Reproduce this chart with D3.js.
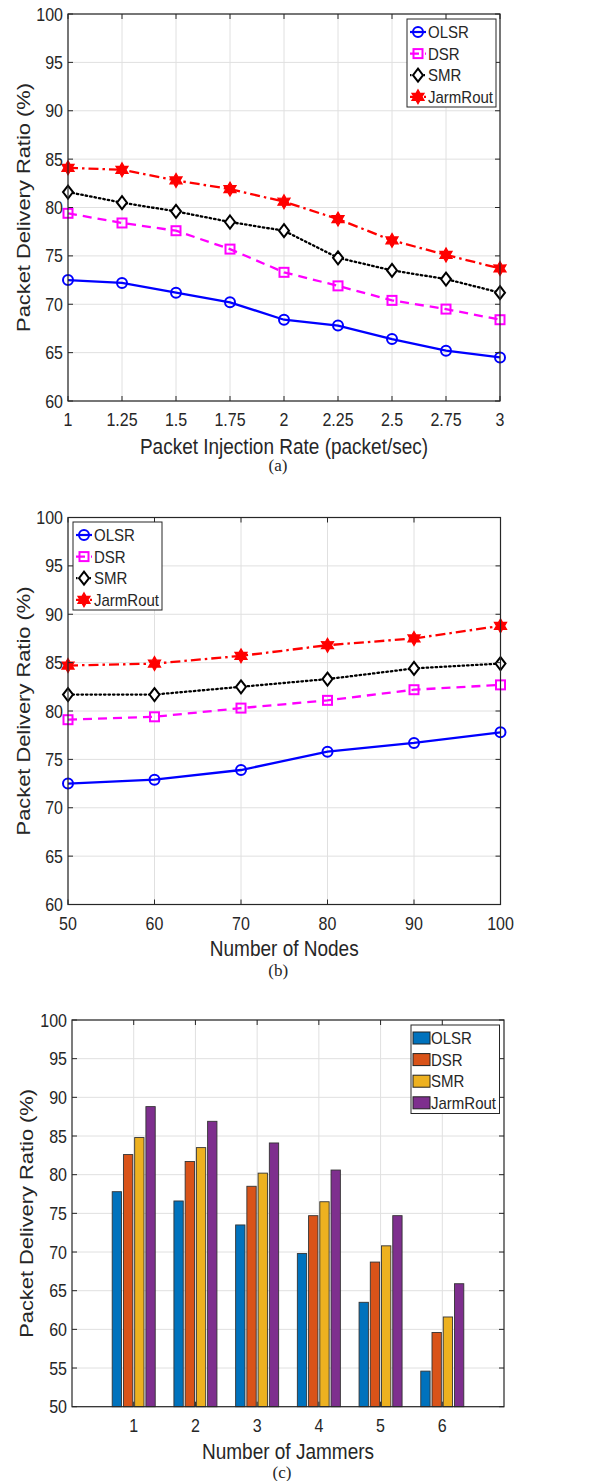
<!DOCTYPE html>
<html>
<head>
<meta charset="utf-8">
<script src="https://cdn.jsdelivr.net/npm/d3@7"></script>
<style>
  body { margin: 0; background: #fff; }
  svg text { font-family: "Liberation Sans", Arial, sans-serif; fill: #262626; }
  .cap { font-family: "Liberation Serif", "Times New Roman", serif; }
</style>
</head>
<body>
<svg id="fig" width="593" height="1481"></svg>
<script>
// ---- DATA ----
const protocols = ["OLSR", "DSR", "SMR", "JarmRout"];

// (a) vs packet injection rate
const injectionRates = [1, 1.25, 1.5, 1.75, 2, 2.25, 2.5, 2.75, 3];
const injectionTickLabels = ["1", "1.25", "1.5", "1.75", "2", "2.25", "2.5", "2.75", "3"];
const olsrByRate = [72.5, 72.2, 71.2, 70.2, 68.4, 67.8, 66.4, 65.2, 64.5];
const dsrByRate = [79.4, 78.4, 77.6, 75.7, 73.3, 71.9, 70.4, 69.5, 68.4];
const smrByRate = [81.6, 80.5, 79.6, 78.5, 77.6, 74.8, 73.5, 72.6, 71.2];
const jarmByRate = [84.1, 83.9, 82.8, 81.9, 80.6, 78.8, 76.6, 75.1, 73.7];

// (b) vs number of nodes
const nodeCounts = [50, 60, 70, 80, 90, 100];
const olsrByNodes = [72.5, 72.9, 73.9, 75.8, 76.7, 77.8];
const dsrByNodes = [79.1, 79.4, 80.3, 81.1, 82.2, 82.7];
const smrByNodes = [81.7, 81.7, 82.5, 83.3, 84.4, 84.9];
const jarmByNodes = [84.7, 84.9, 85.7, 86.8, 87.5, 88.8];

// (c) vs number of jammers
const jammerCounts = [1, 2, 3, 4, 5, 6];
const olsrByJammers = [77.8, 76.6, 73.5, 69.8, 63.5, 54.6];
const dsrByJammers = [82.6, 81.7, 78.5, 74.7, 68.7, 59.6];
const smrByJammers = [84.8, 83.5, 80.2, 76.5, 70.8, 61.6];
const jarmByJammers = [88.8, 86.9, 84.1, 80.6, 74.7, 65.9];

const pdrTicksLine = [60, 65, 70, 75, 80, 85, 90, 95, 100];
const pdrTicksBar = [50, 55, 60, 65, 70, 75, 80, 85, 90, 95, 100];

// ---- STYLES ----
const lineStyles = {
  OLSR:     { color: "#0000ff", dash: null,         marker: "circle" },
  DSR:      { color: "#ff00ff", dash: "9,6",        marker: "square" },
  SMR:      { color: "#000000", dash: "1.5,3",      marker: "diamond" },
  JarmRout: { color: "#ff0000", dash: "10,4,2.5,4", marker: "star" }
};
const barColors = ["#0072BD", "#D95319", "#EDB120", "#7E2F8E"];

const svg = d3.select("#fig");
const gridColor = "#e0e0e0";
const axisColor = "#262626";
const stretch = 1.13; // text in the figure is a bit taller than wide

// horizontal text, slightly stretched vertically
function addText(g, x, y, str, size, anchor) {
  return g.append("text")
    .attr("transform", `translate(${x},${y}) scale(1,${stretch})`)
    .attr("text-anchor", anchor || "start")
    .attr("font-size", size)
    .text(str);
}

function drawMarker(g, type, x, y, color) {
  if (type === "circle") {
    g.append("circle").attr("cx", x).attr("cy", y).attr("r", 5)
      .attr("fill", "none").attr("stroke", color).attr("stroke-width", 2);
  } else if (type === "square") {
    g.append("rect").attr("x", x - 4.5).attr("y", y - 4.5).attr("width", 9).attr("height", 9)
      .attr("fill", "none").attr("stroke", color).attr("stroke-width", 2);
  } else if (type === "diamond") {
    g.append("path").attr("d", `M${x},${y - 6.5}L${x + 5},${y}L${x},${y + 6.5}L${x - 5},${y}Z`)
      .attr("fill", "#fff").attr("stroke", color).attr("stroke-width", 2);
  } else {
    const pts = [];
    for (let i = 0; i < 12; i++) {
      const a = -Math.PI / 2 + i * Math.PI / 6;
      const r = i % 2 === 0 ? 7 : 4;
      pts.push([x + r * Math.cos(a), y + r * Math.sin(a)]);
    }
    g.append("path").attr("d", d3.line()(pts) + "Z")
      .attr("fill", color).attr("stroke", color).attr("stroke-width", 1.2);
  }
}

// grid lines behind the data
function drawFrame(g, x, y, xTicks, yTicks, left, right, top, bottom) {
  g.selectAll("line.vg").data(xTicks).join("line").attr("class", "vg")
    .attr("x1", d => x(d)).attr("x2", d => x(d)).attr("y1", top).attr("y2", bottom)
    .attr("stroke", gridColor).attr("stroke-width", 1);
  g.selectAll("line.hg").data(yTicks).join("line").attr("class", "hg")
    .attr("y1", d => y(d)).attr("y2", d => y(d)).attr("x1", left).attr("x2", right)
    .attr("stroke", gridColor).attr("stroke-width", 1);
}

// box with inward ticks on all four sides
function drawBox(g, x, y, xTicks, yTicks, left, right, top, bottom) {
  const tl = 5;
  g.selectAll("line.xt").data(xTicks).join("line").attr("class", "xt")
    .attr("x1", d => x(d)).attr("x2", d => x(d)).attr("y1", bottom).attr("y2", bottom - tl)
    .attr("stroke", axisColor);
  g.selectAll("line.xt2").data(xTicks).join("line").attr("class", "xt2")
    .attr("x1", d => x(d)).attr("x2", d => x(d)).attr("y1", top).attr("y2", top + tl)
    .attr("stroke", axisColor);
  g.selectAll("line.yt").data(yTicks).join("line").attr("class", "yt")
    .attr("y1", d => y(d)).attr("y2", d => y(d)).attr("x1", left).attr("x2", left + tl)
    .attr("stroke", axisColor);
  g.selectAll("line.yt2").data(yTicks).join("line").attr("class", "yt2")
    .attr("y1", d => y(d)).attr("y2", d => y(d)).attr("x1", right).attr("x2", right - tl)
    .attr("stroke", axisColor);
  g.append("rect").attr("x", left).attr("y", top).attr("width", right - left).attr("height", bottom - top)
    .attr("fill", "none").attr("stroke", axisColor).attr("stroke-width", 1.2);
}

function drawLabels(g, x, y, xTicks, xLabels, yTicks, cfg) {
  xTicks.forEach((d, i) => addText(g, x(d), cfg.bottom + 25, xLabels[i], 16, "middle"));
  yTicks.forEach(d => addText(g, cfg.left - 5, y(d) + 6.5, d, 16, "end"));
  addText(g, (cfg.left + cfg.right) / 2, cfg.xLabelY, cfg.xTitle, 19, "middle");
  g.append("text")
    .attr("transform", `translate(${cfg.yLabelX},${(cfg.top + cfg.bottom) / 2}) rotate(-90) scale(1.15,1)`)
    .attr("text-anchor", "middle").attr("font-size", 19).text("Packet Delivery Ratio (%)");
  g.append("text").attr("class", "cap").attr("x", (cfg.left + cfg.right) / 2 - 6).attr("y", cfg.capY)
    .attr("text-anchor", "middle").attr("font-size", 17).text(cfg.caption);
}

function linePanel(cfg) {
  const g = svg.append("g");
  const x = d3.scaleLinear().domain(d3.extent(cfg.xs)).range([cfg.left, cfg.right]);
  const y = d3.scaleLinear().domain([60, 100]).range([cfg.bottom, cfg.top]);
  drawFrame(g, x, y, cfg.xs, pdrTicksLine, cfg.left, cfg.right, cfg.top, cfg.bottom);

  cfg.series.forEach((vals, k) => {
    const st = lineStyles[protocols[k]];
    const pts = cfg.xs.map((d, i) => [x(d), y(vals[i])]);
    g.append("path").attr("d", d3.line()(pts)).attr("fill", "none")
      .attr("stroke", st.color).attr("stroke-width", 2.3)
      .attr("stroke-dasharray", st.dash)
      .attr("stroke-linecap", st.marker === "diamond" ? "round" : "butt");
    pts.forEach(p => drawMarker(g, st.marker, p[0], p[1], st.color));
  });

  drawBox(g, x, y, cfg.xs, pdrTicksLine, cfg.left, cfg.right, cfg.top, cfg.bottom);
  drawLabels(g, x, y, cfg.xs, cfg.xLabels, pdrTicksLine, cfg);

  // legend
  const lg = g.append("g");
  lg.append("rect").attr("x", cfg.lx).attr("y", cfg.ly).attr("width", 89).attr("height", 88)
    .attr("fill", "#fff").attr("stroke", axisColor).attr("stroke-width", 1);
  protocols.forEach((p, k) => {
    const st = lineStyles[p];
    const yy = cfg.ly + 13 + k * 21.6;
    lg.append("line").attr("x1", cfg.lx + 3).attr("x2", cfg.lx + 19).attr("y1", yy).attr("y2", yy)
      .attr("stroke", st.color).attr("stroke-width", 2.2).attr("stroke-dasharray", st.dash);
    drawMarker(lg, st.marker, cfg.lx + 11, yy, st.color);
    addText(lg, cfg.lx + 21, yy + 6, p, 15);
  });
}

linePanel({
  xs: injectionRates, xLabels: injectionTickLabels,
  series: [olsrByRate, dsrByRate, smrByRate, jarmByRate],
  left: 68, right: 500, top: 14, bottom: 401,
  xTitle: "Packet Injection Rate (packet/sec)", xLabelY: 454, yLabelX: 30, capY: 471, caption: "(a)",
  lx: 407, ly: 19
});

linePanel({
  xs: nodeCounts, xLabels: nodeCounts.map(String),
  series: [olsrByNodes, dsrByNodes, smrByNodes, jarmByNodes],
  left: 68, right: 500.5, top: 517.5, bottom: 904.5,
  xTitle: "Number of Nodes", xLabelY: 956, yLabelX: 30, capY: 976, caption: "(b)",
  lx: 73, ly: 522
});

// ---- (c) grouped bars ----
(function barPanel() {
  const cfg = {
    left: 72, right: 504, top: 1020, bottom: 1406.7,
    xTitle: "Number of Jammers", xLabelY: 1459, yLabelX: 33, capY: 1478, caption: "(c)"
  };
  const g = svg.append("g");
  const x = d3.scaleLinear().domain([0, 7]).range([cfg.left, cfg.right]);
  const y = d3.scaleLinear().domain([50, 100]).range([cfg.bottom, cfg.top]);
  drawFrame(g, x, y, jammerCounts, pdrTicksBar, cfg.left, cfg.right, cfg.top, cfg.bottom);

  const step = x(1) - x(0);
  const slot = step * 0.182;
  const bw = slot * 0.83;
  const seriesC = [olsrByJammers, dsrByJammers, smrByJammers, jarmByJammers];
  seriesC.forEach((vals, k) => {
    g.selectAll(null).data(jammerCounts).join("rect")
      .attr("x", (d, i) => x(d) + (k - 1.5) * slot - bw / 2)
      .attr("y", (d, i) => y(vals[i]))
      .attr("width", bw)
      .attr("height", (d, i) => y(50) - y(vals[i]))
      .attr("fill", barColors[k]).attr("stroke", "#333").attr("stroke-width", 0.9);
  });

  drawBox(g, x, y, jammerCounts, pdrTicksBar, cfg.left, cfg.right, cfg.top, cfg.bottom);
  drawLabels(g, x, y, jammerCounts, jammerCounts.map(String), pdrTicksBar, cfg);

  const lx = 411, ly = 1025;
  g.append("rect").attr("x", lx).attr("y", ly).attr("width", 88.5).attr("height", 88.5)
    .attr("fill", "#fff").attr("stroke", axisColor).attr("stroke-width", 1);
  protocols.forEach((p, k) => {
    const yy = ly + 13 + k * 21.6;
    g.append("rect").attr("x", lx + 2).attr("y", yy - 6).attr("width", 17).attr("height", 12)
      .attr("fill", barColors[k]).attr("stroke", "#222").attr("stroke-width", 1);
    addText(g, lx + 20, yy + 6, p, 15);
  });
})();
</script>
</body>
</html>
